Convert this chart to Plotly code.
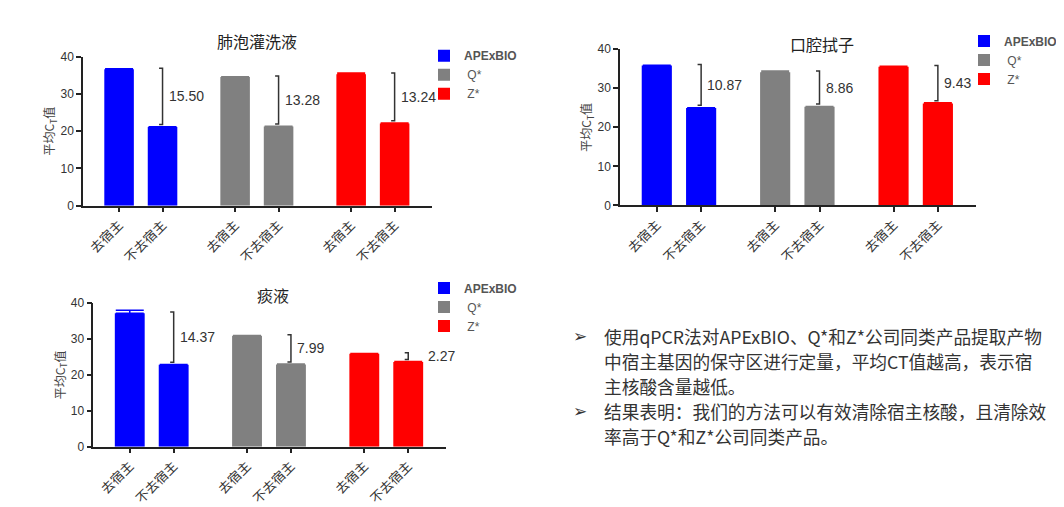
import plotly.graph_objects as go

# dados
categorias = ["去宿主", "不去宿主"]
empresas = ["APExBIO", "Q*", "Z*"]
cores = ["#0000ff", "#808080", "#ff0000"]
titulos = ["肺泡灌洗液", "口腔拭子", "痰液"]

bal_apexbio = [36.6, 21.1]
bal_q = [34.5, 21.22]
bal_z = [35.3, 22.06]
bal_erro = [[0.15, 0.1], [0.1, 0.1], [0.3, 0.1]]
bal_diff = [15.50, 13.28, 13.24]

oral_apexbio = [35.8, 24.93]
oral_q = [34.1, 25.24]
oral_z = [35.5, 26.07]
oral_erro = [[0.1, 0.1], [0.3, 0.1], [0.1, 0.2]]
oral_diff = [10.87, 8.86, 9.43]

escarro_apexbio = [37.2, 22.83]
escarro_q = [30.9, 22.91]
escarro_z = [25.9, 23.63]
escarro_erro = [[0.8, 0.1], [0.1, 0.1], [0.05, 0.1]]
escarro_diff = [14.37, 7.99, 2.27]

texto_linhas = [
    "使用qPCR法对APExBIO、Q*和Z*公司同类产品提取产物",
    "中宿主基因的保守区进行定量，平均CT值越高，表示宿",
    "主核酸含量越低。",
    "结果表明：我们的方法可以有效清除宿主核酸，且清除效",
    "率高于Q*和Z*公司同类产品。",
]
linhas_com_marcador = [0, 3]

# a página tem margem de 8px no body, então a figura é um pouco menor
OFF = 8
W, H = 1064 - OFF, 507 - OFF
FONTE = "Liberation Sans, Arial, Noto Sans CJK SC"
FONTE_CJK = "Noto Sans CJK SC, Liberation Sans"


def px_x(p):
    return (p - OFF) / W


def px_y(p):
    return 1 - (p - OFF) / H


# posições em pixels da tela de referência
paineis = [
    dict(dados=[bal_apexbio, bal_q, bal_z], erro=bal_erro, diff=bal_diff,
         dx=(83, 432), dy=(205, 51), leg=(424, 35), tit=(257, 35)),
    dict(dados=[oral_apexbio, oral_q, oral_z], erro=oral_erro, diff=oral_diff,
         dx=(620, 976), dy=(204.7, 43.3), leg=(964, 20), tit=(822, 38)),
    dict(dados=[escarro_apexbio, escarro_q, escarro_z], erro=escarro_erro, diff=escarro_diff,
         dx=(93.3, 446), dy=(454, 305.7), leg=(424, 275), tit=(273, 297)),
]

passo_grupo = 2.67
fig = go.Figure()
shapes = []
annotations = []

for k, p in enumerate(paineis):
    sufixo = "" if k == 0 else str(k + 1)
    xref, yref = "x" + sufixo, "y" + sufixo
    legenda = "legend" + sufixo
    tickvals, ticktext = [], []
    for g, (valores, erro) in enumerate(zip(p["dados"], p["erro"])):
        xs = [g * passo_grupo + i for i in range(len(categorias))]
        tickvals += xs
        ticktext += categorias
        nome = "<b>APExBIO</b>" if empresas[g] == "APExBIO" else " " + empresas[g]
        fig.add_trace(go.Bar(
            x=xs, y=valores, name=nome, marker_color=cores[g], marker_line_width=0,
            width=0.68, xaxis=xref, yaxis=yref, legend=legenda,
            error_y=dict(type="data", array=erro, arrayminus=[0, 0], symmetric=False,
                         color=cores[g], thickness=1.5, width=14),
        ))
        # colchete de diferença
        topo = valores[0] + 0.3
        base = valores[1] + 0.7
        xb = xs[1]
        d = 0.08
        shapes.append(dict(
            type="path", xref=xref, yref=yref,
            path=f"M {xb - d},{topo} L {xb},{topo} L {xb},{base} L {xb - d},{base}",
            line=dict(color="#333333", width=1.5),
        ))
        annotations.append(dict(
            x=xb, y=(topo + base) / 2, xref=xref, yref=yref, text=f"{p['diff'][g]:.2f}",
            showarrow=False, xanchor="left", xshift=4 if p["diff"][g] > 3 else 18,
            font=dict(size=14, color="#333333", family=FONTE),
        ))

    eixo_x = dict(
        domain=[px_x(p["dx"][0]), px_x(p["dx"][1])], range=[-0.83, 7.2],
        tickvals=tickvals, ticktext=ticktext, tickangle=-45,
        showline=True, linecolor="#222222", linewidth=1.5,
        ticks="outside", ticklen=5, tickcolor="#222222", tickwidth=1.5,
        showgrid=False, zeroline=False, anchor=yref,
        tickfont=dict(size=13, color="#333333", family=FONTE_CJK),
    )
    eixo_y = dict(
        domain=[px_y(p["dy"][0]), px_y(p["dy"][1])], range=[0, 40],
        tickvals=[0, 10, 20, 30, 40],
        showline=True, linecolor="#222222", linewidth=1.5,
        ticks="outside", ticklen=5, tickcolor="#222222", tickwidth=1.5,
        showgrid=False, zeroline=False, anchor=xref,
        tickfont=dict(size=12, color="#333333", family=FONTE),
        title=dict(text="平均C<sub>T</sub>值", font=dict(size=12, color="#444444", family=FONTE_CJK),
                   standoff=3),
    )
    fig.update_layout({"xaxis" + sufixo: eixo_x, "yaxis" + sufixo: eixo_y})
    fig.update_layout({legenda: dict(
        x=px_x(p["leg"][0]), y=px_y(p["leg"][1]), xanchor="left", yanchor="top",
        bgcolor="rgba(0,0,0,0)", font=dict(size=12, color="#555555", family=FONTE),
        itemwidth=30, tracegroupgap=0,
    )})
    annotations.append(dict(
        x=px_x(p["tit"][0]), y=px_y(p["tit"][1]), xref="paper", yref="paper",
        text=titulos[k], showarrow=False, xanchor="center", yanchor="middle",
        font=dict(size=16, color="#222222", family=FONTE_CJK),
    ))

# bloco de texto à direita
y_linhas = [340, 365, 391.5, 417.5, 442.5]
for i, linha in enumerate(texto_linhas):
    annotations.append(dict(
        x=px_x(602), y=px_y(y_linhas[i]), xref="paper", yref="paper", text=linha,
        showarrow=False, xanchor="left", yanchor="middle",
        font=dict(size=17.7, color="#333333", family=FONTE_CJK),
    ))
    if i in linhas_com_marcador:
        annotations.append(dict(
            x=px_x(580), y=px_y(y_linhas[i]), xref="paper", yref="paper", text="➢",
            showarrow=False, xanchor="center", yanchor="middle",
            font=dict(size=17, color="#333333", family="DejaVu Sans"),
        ))

fig.update_layout(
    width=W, height=H, margin=dict(l=0, r=0, t=0, b=0),
    paper_bgcolor="white", plot_bgcolor="white",
    barmode="overlay", showlegend=True,
    shapes=shapes, annotations=annotations,
    font=dict(family=FONTE),
)

fig.write_html("out.html")
